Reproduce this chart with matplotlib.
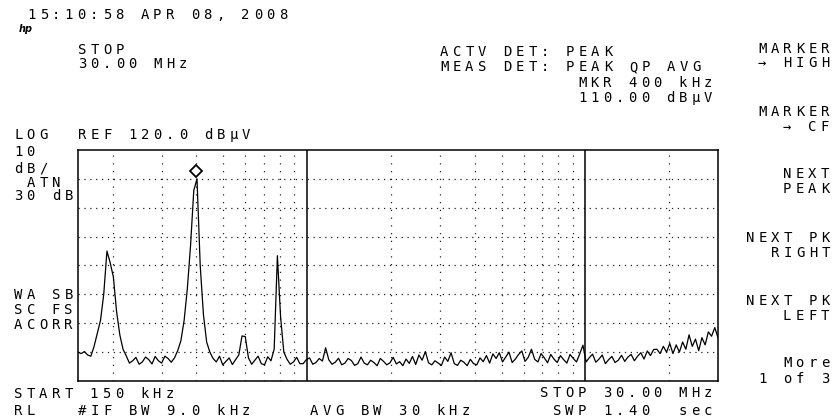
import numpy as np
import matplotlib
matplotlib.use("Agg")
from matplotlib import pyplot as plt
from matplotlib.transforms import offset_copy

W, H = 833, 419

# sweep settings
START_MHZ, STOP_MHZ = 0.15, 30.0
REF_DBUV, BOTTOM_DBUV = 120.0, 40.0
MKR_MHZ, MKR_DBUV = 0.4, 110.0

# trace levels [dBuV], one per sweep point (log sweep, start -> stop)
level_dbuv = [
    50.0, 49.5, 50.2, 49.0, 48.6, 52.0, 56.5, 61.0, 70.0, 85.0,
    81.0, 76.0, 64.0, 56.0, 51.0, 48.7, 46.2, 47.0, 48.2, 45.8,
    46.6, 48.3, 47.4, 45.9, 48.5, 47.0, 46.2, 48.6, 47.8, 46.5,
    48.0, 50.5, 54.0, 61.0, 72.0, 87.0, 106.0, 110.0, 80.0, 63.0,
    53.5, 50.0, 47.8, 46.6, 48.6, 45.6, 46.8, 48.0, 45.7, 47.4,
    49.0, 55.6, 55.4, 48.0, 45.8, 47.2, 48.6, 46.0, 45.6, 48.4,
    47.0, 51.0, 83.4, 62.0, 50.0, 47.5, 45.8, 46.6, 48.2, 46.0,
    46.0, 47.4, 48.0, 45.8, 46.4, 47.8, 46.9, 51.5, 47.3, 45.8,
    46.5, 47.9, 45.6, 46.2, 47.8, 47.1, 45.4, 46.0, 48.3, 46.2,
    45.6, 47.2, 46.4, 45.3, 47.8, 46.8, 45.6, 46.3, 48.2, 45.9,
    46.7, 45.3, 47.6, 46.1, 48.5, 45.7, 49.0, 47.2, 50.2, 46.3,
    45.6, 47.0, 46.2, 45.4, 48.3, 46.8, 49.8, 46.0, 45.4, 47.2,
    46.5, 45.3, 47.5, 46.0, 45.6, 48.0, 46.7, 48.8, 46.2, 49.4,
    47.8, 49.8, 46.6, 48.3, 50.0, 46.4, 47.6, 49.2, 50.4, 46.8,
    48.2, 51.0, 47.5, 46.6, 49.5, 48.0, 46.3, 49.2, 47.6, 46.4,
    48.8, 47.4, 46.2, 49.2, 47.8, 46.6, 49.4, 52.4, 46.6, 48.1,
    49.3, 46.5, 47.6, 49.0, 46.0, 47.4, 48.5, 46.4, 47.2, 48.9,
    46.8, 48.3, 49.2, 47.0, 48.6, 49.8, 47.6, 50.4, 48.8, 50.9,
    51.0, 49.5, 52.0, 50.0, 53.0, 49.5, 52.5, 50.0, 53.5, 51.0,
    56.0, 52.0, 54.5, 50.5, 55.0, 52.5, 57.0, 55.5, 58.5, 55.0,
]
freq_mhz = np.geomspace(START_MHZ, STOP_MHZ, len(level_dbuv))

# graticule
minor_grid_mhz = [0.2, 0.3, 0.4, 0.5, 0.6, 0.7, 0.8, 0.9,
                  2, 3, 4, 5, 6, 7, 8, 9, 20]
major_grid_mhz = [1, 10]
level_grid_dbuv = [50, 60, 70, 80, 90, 100, 110]

fig = plt.figure(figsize=(W / 100, H / 100), dpi=100)
ax = fig.add_axes([78 / W, 1 - 381 / H, 640 / W, 231 / H])

for f in minor_grid_mhz:
    ax.axvline(f, color="#222222", lw=0.9, linestyle=(0, (1, 5.2)))
for lv in level_grid_dbuv:
    ax.axhline(lv, color="#222222", lw=0.9, linestyle=(0, (1, 3.7)))
for f in major_grid_mhz:
    ax.axvline(f, color="black", lw=1.1)

ax.plot(freq_mhz, level_dbuv, color="black", lw=0.9)

# marker diamond sits just above the peak
tr = offset_copy(ax.transData, fig=fig, y=6, units="points")
ax.plot([MKR_MHZ], [MKR_DBUV], marker="D", ms=6.5, mfc="white", mec="black",
        mew=1.3, transform=tr, clip_on=False)

ax.set_xscale("log")
ax.set_xlim(START_MHZ, STOP_MHZ)
ax.set_ylim(BOTTOM_DBUV, REF_DBUV)
ax.set_xticks([])
ax.set_yticks([])
ax.minorticks_off()
for s in ax.spines.values():
    s.set_linewidth(1.1)

# screen annotations, fixed character pitch like the analyzer font
PITCH = 12.6


def put(x, y, s, size=10):
    for k, ch in enumerate(s):
        if ch == " ":
            continue
        fig.text((x + k * PITCH) / W, 1 - (y + 5) / H, ch, ha="left",
                 va="baseline", fontsize=size, family="DejaVu Sans Mono",
                 color="black")


put(27, 14, "15:10:58 APR 08, 2008")
fig.text(19 / W, 1 - 29 / H, "hp", fontsize=7, style="italic",
         fontweight="bold", va="center", ha="left")

put(78, 49, "STOP")
put(78, 63, "30.00 MHz")
put(440, 50.5, "ACTV DET: PEAK")
put(440, 66, "MEAS DET: PEAK QP AVG")
put(578, 82, "MKR 400 kHz")
put(578, 97, "110.00 dBµV")

put(14, 134, "LOG")
put(78, 134, "REF 120.0 dBµV")
put(14, 151.5, "10")
put(14, 167.5, "dB/")
put(14, 181.5, " ATN")
put(14, 195, "30 dB")
put(14, 294, "WA SB")
put(14, 309, "SC FS")
put(14, 324, "ACORR")

put(14, 393, "START 150 kHz")
put(540, 392, "STOP 30.00 MHz")
put(14, 410, "RL")
put(78, 410, "#IF BW 9.0 kHz")
put(310, 410, "AVG BW 30 kHz")
put(540, 410, " SWP 1.40  sec")

# softkey column
put(758, 48, "MARKER")
put(758, 62, "→ HIGH")
put(758, 111.5, "MARKER")
put(783, 126, "→ CF")
put(783, 173, "NEXT")
put(783, 188, "PEAK")
put(746, 236.5, "NEXT PK")
put(771, 252, "RIGHT")
put(746, 300, "NEXT PK")
put(783, 315, "LEFT")
put(783, 362, "More")
put(758, 378, "1 of 3")

fig.savefig("out.png", dpi=100)
